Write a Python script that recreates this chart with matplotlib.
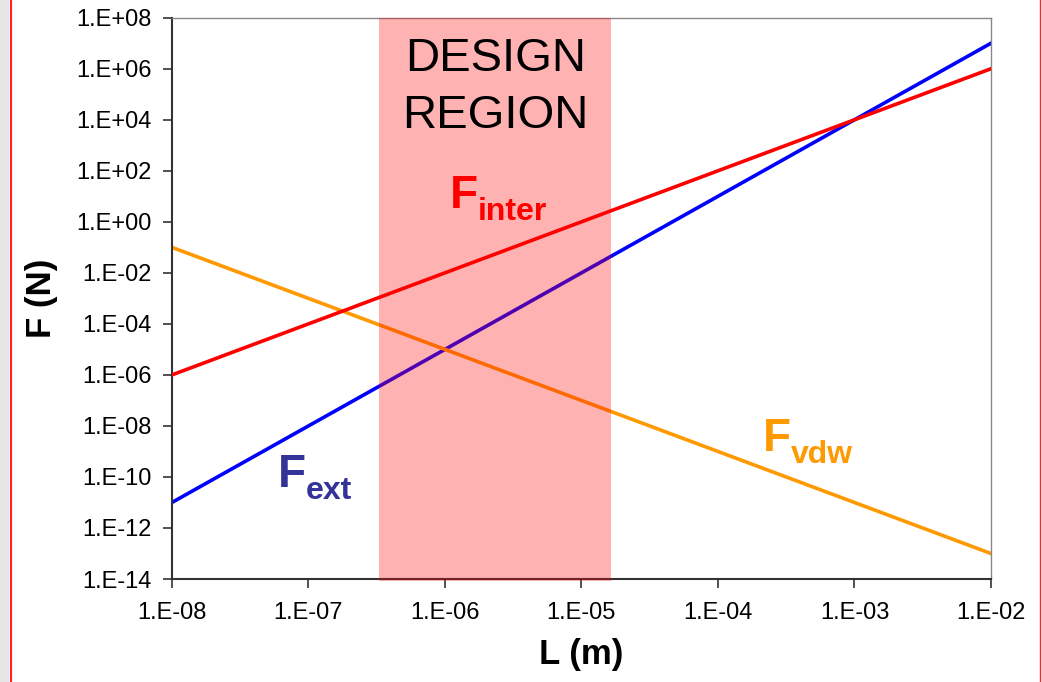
import matplotlib.pyplot as plt
import matplotlib.ticker as mticker
from matplotlib.lines import Line2D
from matplotlib.patches import Rectangle
import numpy as np

plt.rcParams['font.family'] = ['Liberation Sans', 'DejaVu Sans']

# data (straight lines on log-log -> end points)
L = [1e-8, 1e-2]
F_ext = [1e-11, 1e7]
F_inter = [1e-6, 1e6]
F_vdw = [1e-1, 1e-13]
design_region = [3.3e-7, 1.65e-5]

fig = plt.figure(figsize=(10.42, 6.82), dpi=100)
ax = fig.add_axes([0.165, 0.151, 0.786, 0.823])

ax.plot(L, F_ext, color='#0000ff', lw=2.6, zorder=2)
ax.plot(L, F_vdw, color='#ff9900', lw=2.6, zorder=2)
ax.axvspan(design_region[0], design_region[1], ymin=-0.003, ymax=1,
           color='#ff0000', alpha=0.3, lw=0, zorder=3, clip_on=False)
ax.plot(L, F_inter, color='#ff0000', lw=2.6, zorder=4)

ax.set_xscale('log')
ax.set_yscale('log')
ax.set_xlim(1e-8, 1e-2)
ax.set_ylim(1e-14, 1e8)
ax.set_xticks(10.0 ** np.arange(-8, -1))
ax.set_yticks(10.0 ** np.arange(-14, 9, 2))
ax.xaxis.set_minor_locator(mticker.NullLocator())
ax.yaxis.set_minor_locator(mticker.NullLocator())
fmt = mticker.FuncFormatter(lambda v, p: f"{v:.0E}".replace('E', '.E'))
ax.xaxis.set_major_formatter(fmt)
ax.yaxis.set_major_formatter(fmt)
ax.tick_params(direction='out', length=6.5, width=1.2, labelsize=17, color='#333333', pad=8)
ax.tick_params(axis='x', pad=10)

for s in ['left', 'bottom']:
    ax.spines[s].set_color('#333333')
    ax.spines[s].set_linewidth(1.5)
for s in ['top', 'right']:
    ax.spines[s].set_color('#888888')
    ax.spines[s].set_linewidth(1.0)

ax.set_xlabel('L (m)', fontsize=25, fontweight='bold', labelpad=10)
ax.set_ylabel('F (N)', fontsize=25, fontweight='bold', labelpad=13)

# annotations
ax.text(np.sqrt(design_region[0] * design_region[1]), 1.8e5, 'DESIGN\nREGION',
        fontsize=34, ha='center', va='center', linespacing=1.38, zorder=5)

labels = [('inter', 1.09e-6, 3.5, '#ff0000'),
          ('ext', 6e-8, 4.1e-11, '#333399'),
          ('vdw', 2.14e-4, 1.07e-9, '#ff9900')]
for sub, x, y, c in labels:
    ax.text(x, y, 'F', color=c, fontsize=33, fontweight='bold',
            ha='left', va='baseline', zorder=5)
    ax.annotate(sub, xy=(x, y), xytext=(20, -8.6), textcoords='offset points',
                color=c, fontsize=23, fontweight='bold',
                ha='left', va='baseline', zorder=5)

# slide frame
fig.patches.append(Rectangle((0, 0), 9 / 1042, 1, transform=fig.transFigure,
                             color='#e6e6e6', lw=0))
fig.lines.append(Line2D([10.5 / 1042] * 2, [0, 1], transform=fig.transFigure,
                        color='#ff2020', lw=1.5))
fig.lines.append(Line2D([1040 / 1042] * 2, [0, 1], transform=fig.transFigure,
                        color='#ff2020', lw=1.0))

fig.savefig('out.png', dpi=100)
